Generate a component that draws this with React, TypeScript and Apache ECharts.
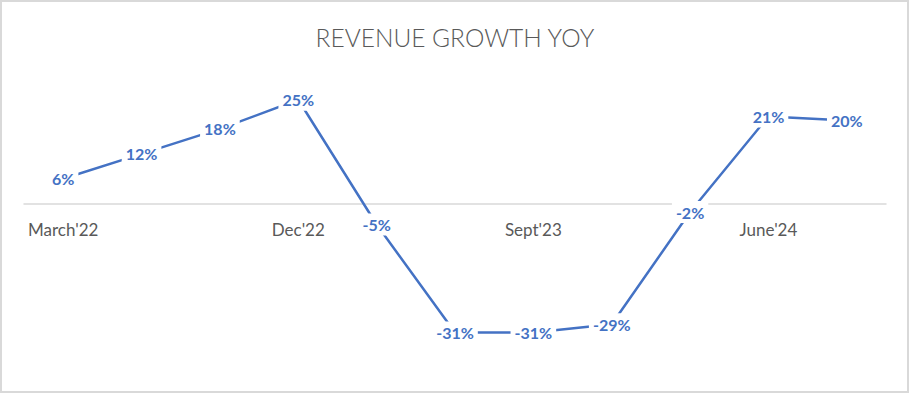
import React, { useEffect, useRef } from "react";
import * as echarts from "echarts";

const categories = [
  "March'22", "June'22", "Sept'22", "Dec'22", "March'23", "June'23",
  "Sept'23", "Dec'23", "March'24", "June'24", "Sept'24",
];
const growth = [6, 12, 18, 25, -5, -31, -31, -29, -2, 21, 20];
const titleText = "REVENUE GROWTH YOY";

export default function App() {
  const ref = useRef<HTMLDivElement>(null);
  useEffect(() => {
    document.body.style.margin = "0";
    const chart = echarts.init(ref.current!, null, { renderer: "svg" });
    const top = 79;
    const height = 291;
    const yMin = -40;
    const yMax = 30;
    const zeroY = top + (yMax / (yMax - yMin)) * height;
    chart.setOption({
      animation: false,
      backgroundColor: "#ffffff",
      title: {
        text: titleText,
        left: "center",
        top: 20,
        textStyle: { fontFamily: "Lato", fontWeight: 300, fontSize: 24.5, color: "#595959" },
      },
      graphic: [
        {
          type: "rect",
          shape: { x: 1, y: 1, width: 907, height: 391 },
          style: { fill: "none", stroke: "#d9d9d9", lineWidth: 2 },
          silent: true,
        },
      ],
      grid: { left: 24, width: 862, top, height, containLabel: false },
      xAxis: {
        type: "category",
        data: categories,
        boundaryGap: true,
        offset: -(top + height - zeroY),
        axisLine: { onZero: false, lineStyle: { color: "#d9d9d9", width: 1.5 } },
        axisTick: { show: false },
        axisLabel: {
          interval: 2,
          margin: 17,
          fontFamily: "Lato",
          fontSize: 17,
          color: "#595959",
        },
      },
      yAxis: {
        type: "value",
        min: yMin,
        max: yMax,
        show: false,
        splitLine: { show: false },
      },
      series: [
        {
          type: "line",
          data: growth,
          symbol: "none",
          lineStyle: { color: "#4472C4", width: 2.5 },
          z: 2,
        },
        {
          type: "scatter",
          data: growth,
          symbol: "rect",
          symbolSize: 1,
          itemStyle: { color: "#ffffff", opacity: 1 },
          label: {
            show: true,
            position: "inside",
            formatter: (p: any) => p.value + "%",
            fontFamily: "Lato",
            fontWeight: "bold",
            fontSize: 16,
            color: "#4472C4",
            opacity: 1,
            backgroundColor: "#ffffff",
            padding: [3, 4],
          },
          emphasis: { disabled: true },
          z: 3,
        },
      ],
    });
    return () => chart.dispose();
  }, []);
  return (
    <div style={{ position: "absolute", left: 0, top: 0, width: 910, height: 394 }}>
      <div ref={ref} style={{ width: 910, height: 394 }} />
    </div>
  );
}
